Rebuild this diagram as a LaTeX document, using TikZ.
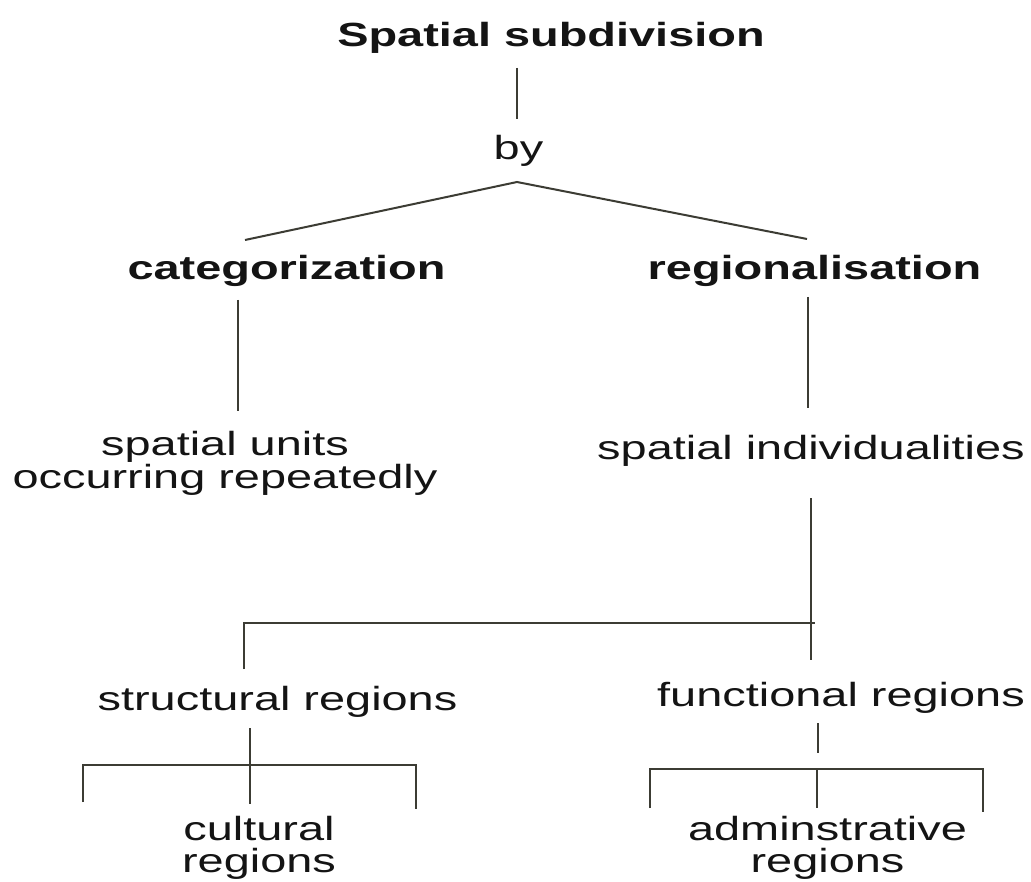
\documentclass[tikz,border=0pt]{standalone}
\usepackage{fontspec}
\setmainfont{Liberation Sans}
\usepackage{graphicx}
\definecolor{linecol}{RGB}{60,60,52}
\definecolor{txtcol}{RGB}{20,20,20}
\newcommand{\wideone}[1]{\scalebox{1.4}[1]{#1}}
\newcommand{\widetwo}[3]{\scalebox{1.4}[1]{\vtop{\baselineskip=#3\halign{\hfil##\hfil\cr #1\cr #2\cr}}}}
\begin{document}
\begin{tikzpicture}[x=1pt,y=-1pt,
  lbl/.style={inner sep=0pt,anchor=base,text=txtcol,font=\fontsize{33.5}{30}\selectfont},
  conn/.style={draw=linecol,line width=2pt}]
\useasboundingbox[fill=white] (0,0) rectangle (1031,882);
% texts
\node[lbl] (title) at (551,47) {\wideone{\bfseries Spatial subdivision}};
\node[lbl] (by) at (518.5,160) {\wideone{by}};
\node[lbl] (cat) at (286.5,280) {\wideone{\bfseries categorization}};
\node[lbl] (reg) at (814.5,280) {\wideone{\bfseries regionalisation}};
\node[lbl] (units) at (225,456) {\widetwo{spatial units}{occurring repeatedly}{30pt}};
\node[lbl] (indiv) at (811,460) {\wideone{spatial individualities}};
\node[lbl] (struct) at (277.5,710) {\wideone{structural regions}};
\node[lbl] (func) at (841,706) {\wideone{functional regions}};
\node[lbl] (cult) at (259,840) {\widetwo{cultural}{regions}{32pt}};
\node[lbl] (adm) at (827.5,840) {\widetwo{adminstrative}{regions}{32pt}};
% connector end points
\coordinate (titleB) at (517,68);
\coordinate (byT) at (517,119);
\coordinate (apex) at (517,182);
\coordinate (catT) at (245,240);
\coordinate (regT) at (807,239);
\coordinate (catB) at (238,300);
\coordinate (unitsT) at (238,411);
\coordinate (regB) at (808,297);
\coordinate (indivT) at (808,408);
\coordinate (indivB) at (811,498);
\coordinate (funcT) at (811,660);
\coordinate (juncR) at (815,623);
\coordinate (corner) at (244,623);
\coordinate (structT) at (244,669);
\coordinate (structB) at (250,728);
\coordinate (sbrM) at (250,765);
\coordinate (sbrL) at (83,765);
\coordinate (sbrR) at (416,765);
\coordinate (sbrLe) at (83,802);
\coordinate (sbrMe) at (250,804);
\coordinate (sbrRe) at (416,809);
\coordinate (funcB) at (818,723);
\coordinate (fbrTop) at (818,753);
\coordinate (fbrL) at (650,769);
\coordinate (fbrM) at (817,769);
\coordinate (fbrR) at (983,769);
\coordinate (fbrLe) at (650,808);
\coordinate (fbrMe) at (817,808);
\coordinate (fbrRe) at (983,812);
% connectors
\draw[conn] (titleB) -- (byT);
\draw[conn] (catT) -- (apex) -- (regT);
\draw[conn] (catB) -- (unitsT);
\draw[conn] (regB) -- (indivT);
\draw[conn] (indivB) -- (funcT);
\draw[conn] (structT) -- (corner) -- (juncR);
\draw[conn] (structB) -- (sbrM);
\draw[conn] (sbrLe) -- (sbrL) -- (sbrR) -- (sbrRe);
\draw[conn] (sbrM) -- (sbrMe);
\draw[conn] (funcB) -- (fbrTop);
\draw[conn] (fbrLe) -- (fbrL) -- (fbrR) -- (fbrRe);
\draw[conn] (fbrM) -- (fbrMe);
\end{tikzpicture}
\end{document}
